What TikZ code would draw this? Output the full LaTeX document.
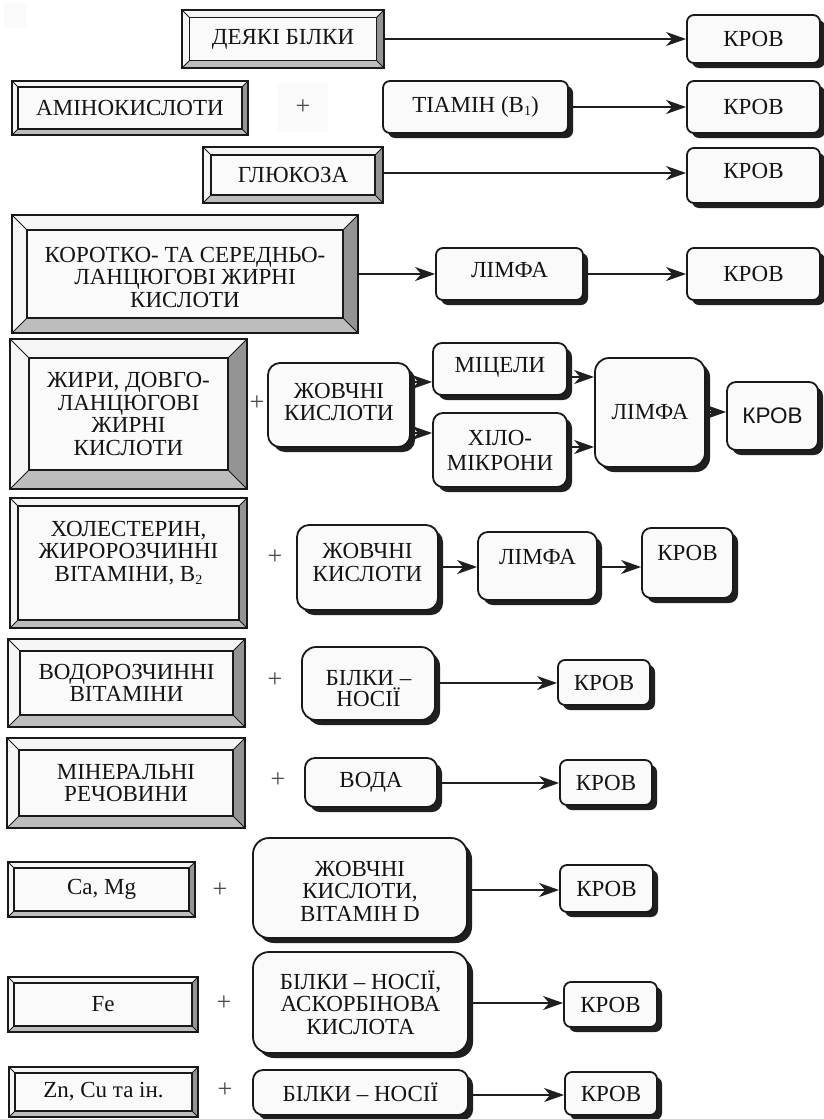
\documentclass[tikz,border=0pt]{standalone}
\usepackage{fontspec}
\setmainfont{Liberation Serif}
\newfontfamily\sansf{Liberation Sans}
\usetikzlibrary{arrows.meta,shadows,calc}

\newcommand\mysub[1]{\raisebox{-0.3ex}{\fontsize{14}{14}\selectfont #1}}

\tikzset{
  bevtop/.style={fill=black!4},
  bevright/.style={fill=black!42},
  bevbot/.style={fill=black!26},
  bevline/.style={draw=black!90, line width=0.9pt},
  bevinner/.style={draw=black!90, line width=1.4pt, fill=black!2},
  bevouter/.style={draw=black!90, line width=2pt, inner sep=0pt},
  txt/.style={font=\fontsize{23}{22.5}\selectfont, align=center, inner sep=0pt, text=black!92},
  rshape/.style={draw=black!90, line width=1.8pt, fill=black!2, rounded corners=7pt, inner sep=0pt,
    drop shadow={shadow xshift=5pt, shadow yshift=-5pt, fill=black!88, opacity=1}},
  arr/.style={draw=black!88, line width=1.6pt, -{Stealth[length=20pt,width=14pt,inset=6pt]}},
  plus/.style={font=\fontsize{26}{26}\selectfont, text=black!70, inner sep=0pt},
  faint/.style={fill=black!2}
}

% [text opts]{name}{x1}{y1}{x2}{y2}{bevel}{text}
\newcommand\bevelbox[8][]{%
  \fill[bevtop] (#3,#4) rectangle (#5,#6);
  \fill[bevright] (#5,#4) -- (#5,#6) -- ({#5-#7},{#6-#7}) -- ({#5-#7},{#4+#7}) -- cycle;
  \fill[bevbot] (#3,#6) -- (#5,#6) -- ({#5-#7},{#6-#7}) -- ({#3+#7},{#6-#7}) -- cycle;
  \draw[bevline] (#3,#4) -- ({#3+#7},{#4+#7}) (#5,#4) -- ({#5-#7},{#4+#7})
     (#3,#6) -- ({#3+#7},{#6-#7}) (#5,#6) -- ({#5-#7},{#6-#7});
  \draw[bevinner] ({#3+#7},{#4+#7}) rectangle ({#5-#7},{#6-#7});
  \node[bevouter, minimum width={(#5-#3)*1pt}, minimum height={(#6-#4)*1pt}] (#2) at ({(#3+#5)/2},{(#4+#6)/2}) {};
  \node[txt,#1] at (#2.center) {#8};
}

% [text opts]{shape opts}{name}{x1}{y1}{x2}{y2}{text}
\newcommand\rbox[8][]{%
  \node[rshape,#2, minimum width={(#6-#4)*1pt}, minimum height={(#7-#5)*1pt}] (#3) at ({(#4+#6)/2},{(#5+#7)/2}) {};
  \node[txt,#1] at (#3.center) {#8};
}

\begin{document}
\begin{tikzpicture}[x=1pt,y=-1pt]
\useasboundingbox (0,0) rectangle (823,1119);
\fill[white] (0,0) rectangle (823,1119);
\fill[faint] (4,3) rectangle (26,28);
\fill[faint] (278,83) rectangle (328,132);

% ---- frames ----
\bevelbox{db}{182}{10}{384}{68}{7.5}{ДЕЯКІ БІЛКИ}
\bevelbox{amino}{12}{81}{248}{135}{6}{АМІНОКИСЛОТИ}
\bevelbox{gluc}{203}{147}{383}{203}{8}{ГЛЮКОЗА}
\bevelbox[yshift=-3pt]{korot}{12}{215}{358}{333}{15}{КОРОТКО- ТА СЕРЕДНЬО-\\ЛАНЦЮГОВІ ЖИРНІ\\КИСЛОТИ}
\bevelbox{zhyry}{10}{339}{247}{489}{19}{ЖИРИ, ДОВГО-\\ЛАНЦЮГОВІ\\ЖИРНІ\\КИСЛОТИ}
\bevelbox[yshift=10pt]{khol}{10}{498}{247}{628}{8}{ХОЛЕСТЕРИН,\\ЖИРОРОЗЧИННІ\\ВІТАМІНИ, В\mysub{2}}
\bevelbox{vodo}{8}{639}{245}{727}{12}{ВОДОРОЗЧИННІ\\ВІТАМІНИ}
\bevelbox{miner}{7}{738}{245}{828}{12}{МІНЕРАЛЬНІ\\РЕЧОВИНИ}
\bevelbox{camg}{8}{862}{195}{917}{6}{Ca, Mg}
\bevelbox{fe}{8}{977}{198}{1032}{6}{Fe}
\bevelbox{zn}{9}{1067}{198}{1117}{6}{Zn, Cu та ін.}

% ---- plus signs ----
\node[plus] (p1) at (303,107) {+};
\node[plus] (p2) at (257,403) {+};
\node[plus] (p3) at (275,557) {+};
\node[plus] (p4) at (275,680) {+};
\node[plus] (p5) at (278,780) {+};
\node[plus] (p6) at (220,890) {+};
\node[plus] (p7) at (224,1003) {+};
\node[plus] (p8) at (225,1090) {+};

% ---- rounded boxes ----
\rbox{}{k1}{687}{15}{820}{63}{КРОВ}
\rbox{}{tiam}{383}{81}{568}{133}{ТІАМІН (В\mysub{1})}
\rbox{}{k2}{687}{81}{820}{133}{КРОВ}
\rbox[yshift=5pt]{}{k3}{687}{148}{820}{203}{КРОВ}
\rbox[yshift=4pt]{}{lim4}{436}{248}{583}{300}{ЛІМФА}
\rbox{}{k4}{687}{248}{820}{300}{КРОВ}
\rbox[yshift=3pt]{rounded corners=12pt}{zh5}{268}{363}{410}{447}{ЖОВЧНІ\\КИСЛОТИ}
\rbox[yshift=2pt]{rounded corners=9pt}{mic}{433}{343}{567}{395}{МІЦЕЛИ}
\rbox[font=\fontsize{23}{25}\selectfont]{rounded corners=10pt}{hilo}{433}{413}{567}{487}{ХІЛО-\\МІКРОНИ}
\rbox{rounded corners=14pt}{lim5}{595}{358}{705}{467}{ЛІМФА}
\rbox[font=\sansf\fontsize{22.5}{24}\selectfont]{rounded corners=9pt}{k5}{727}{382}{818}{450}{КРОВ}
\rbox[yshift=5pt]{rounded corners=12pt}{zh6}{297}{525}{438}{610}{ЖОВЧНІ\\КИСЛОТИ}
\rbox[yshift=9pt]{rounded corners=10pt}{lim6}{478}{532}{597}{600}{ЛІМФА}
\rbox[yshift=10pt]{rounded corners=9pt}{k6}{642}{528}{733}{598}{КРОВ}
\rbox[yshift=-5pt, font=\fontsize{23}{20.5}\selectfont]{rounded corners=14pt}{bn7}{302}{647}{435}{720}{БІЛКИ –\\НОСІЇ}
\rbox{}{k7}{558}{660}{650}{705}{КРОВ}
\rbox{rounded corners=10pt}{voda}{305}{758}{437}{807}{ВОДА}
\rbox{}{k8}{560}{760}{652}{805}{КРОВ}
\rbox[yshift=-3pt]{rounded corners=16pt}{zhD}{253}{838}{467}{938}{ЖОВЧНІ\\КИСЛОТИ,\\ВІТАМІН D}
\rbox{}{k9}{560}{865}{653}{912}{КРОВ}
\rbox{rounded corners=16pt}{bask}{253}{952}{468}{1053}{БІЛКИ – НОСІЇ,\\АСКОРБІНОВА\\КИСЛОТА}
\rbox{}{k10}{564}{982}{657}{1027}{КРОВ}
\rbox{rounded corners=10pt}{bn11}{253}{1070}{468}{1115}{БІЛКИ – НОСІЇ}
\rbox{}{k11}{565}{1072}{657}{1115}{КРОВ}

% ---- arrows ----
\draw[arr] (db.east |- 0,39) -- (k1.west |- 0,39);
\draw[arr] (tiam.east |- 0,107) -- (k2.west |- 0,107);
\draw[arr] (gluc.east |- 0,173) -- (k3.west |- 0,173);
\draw[arr] (korot.east |- 0,274) -- (lim4.west |- 0,274);
\draw[arr] (lim4.east |- 0,274) -- (k4.west |- 0,274);
\draw[arr] (zh5.east |- 0,382) -- (mic.west |- 0,382);
\draw[arr] (zh5.east |- 0,433) -- (hilo.west |- 0,433);
\draw[arr] (mic.east |- 0,377) -- (lim5.west |- 0,377);
\draw[arr] (hilo.east |- 0,447) -- (lim5.west |- 0,447);
\draw[arr] (lim5.east |- 0,412) -- (k5.west |- 0,412);
\draw[arr] (zh6.east |- 0,567) -- (lim6.west |- 0,567);
\draw[arr] (lim6.east |- 0,567) -- (k6.west |- 0,567);
\draw[arr] (bn7.east |- 0,683) -- (k7.west |- 0,683);
\draw[arr] (voda.east |- 0,783) -- (k8.west |- 0,783);
\draw[arr] (zhD.east |- 0,890) -- (k9.west |- 0,890);
\draw[arr] (bask.east |- 0,1003) -- (k10.west |- 0,1003);
\draw[arr] (bn11.east |- 0,1095) -- (k11.west |- 0,1095);
\end{tikzpicture}
\end{document}
